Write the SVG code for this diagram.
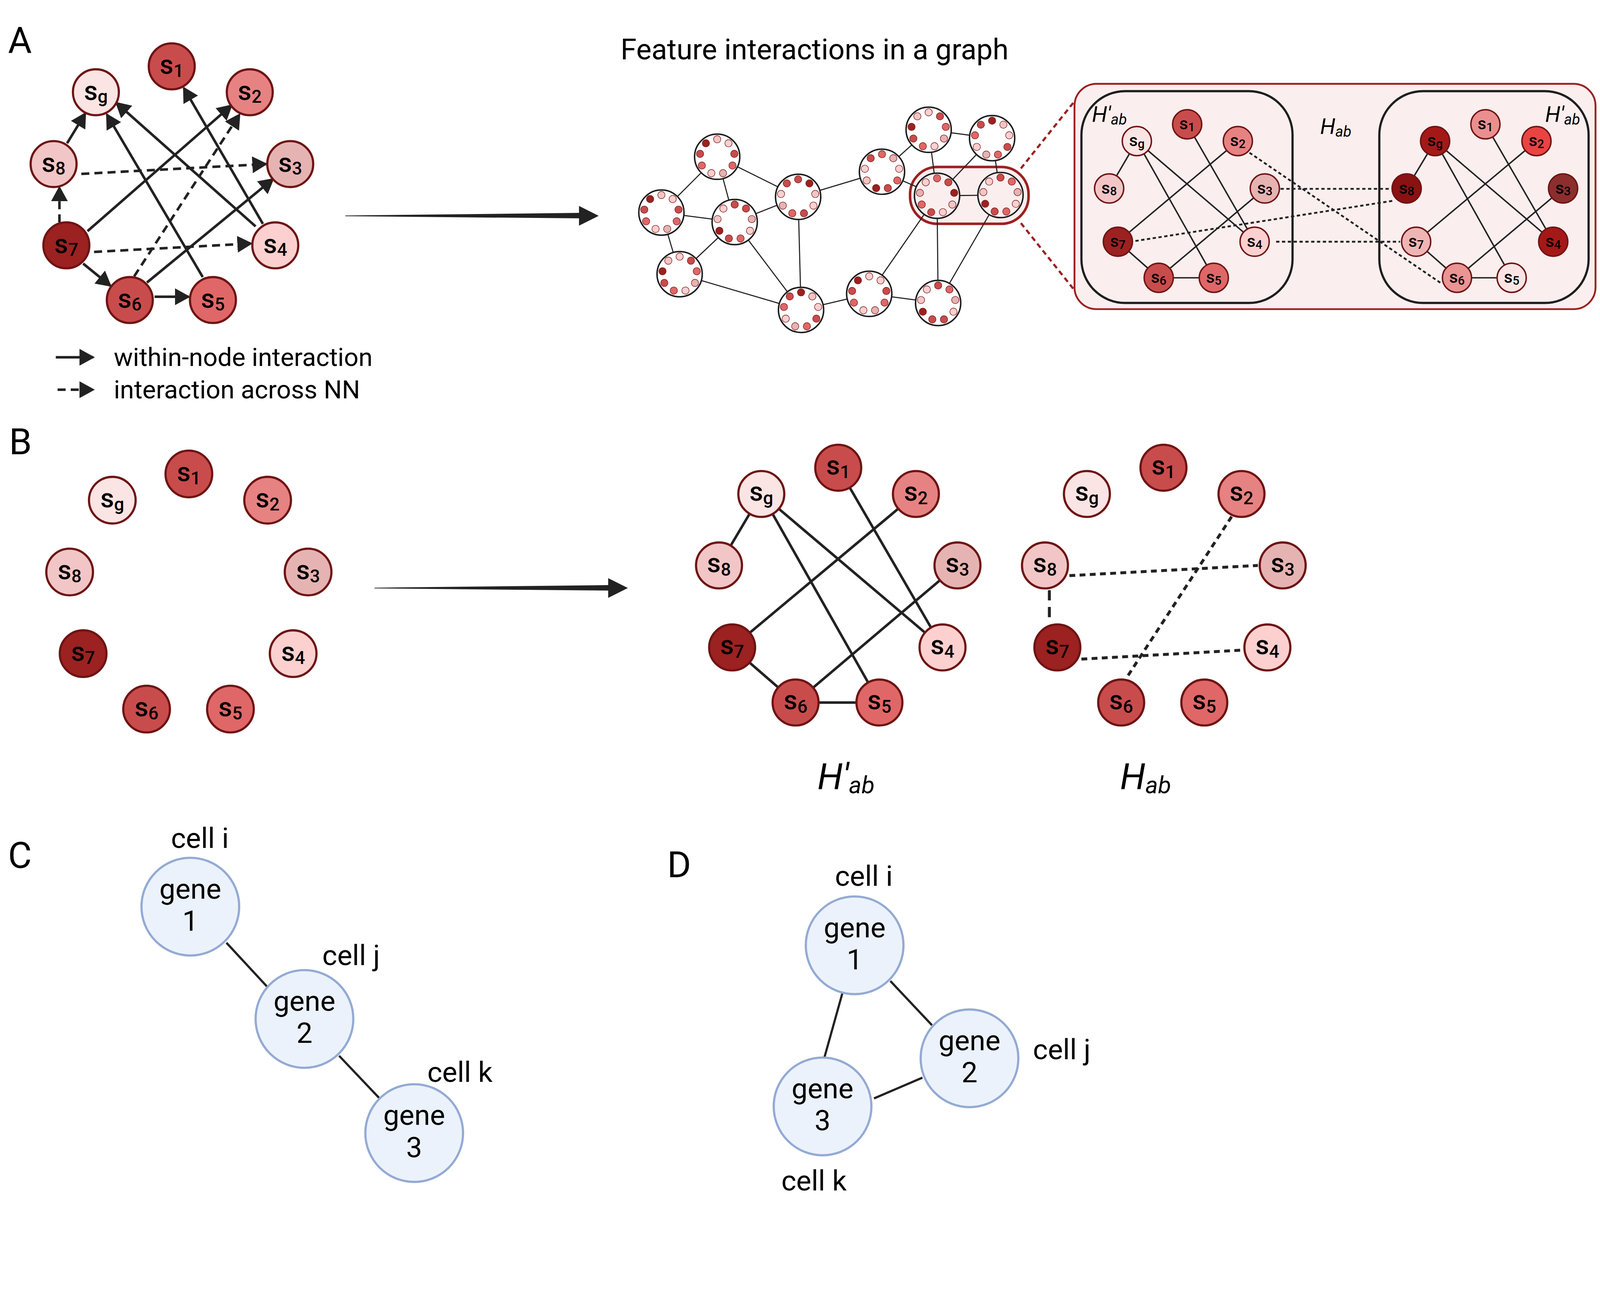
<svg xmlns="http://www.w3.org/2000/svg" width="4388" height="3331" viewBox="0 0 4388 3331">
<style>
.t{font-family:Roboto,'Liberation Sans',sans-serif;fill:#000}
.pl{font-size:100px}
.it{font-style:italic}
.nd{stroke:#6e1414;stroke-width:6}
.ndi{stroke:#6e1414;stroke-width:4}
.lb{font-family:Roboto,'Liberation Sans',sans-serif;font-weight:500;font-size:73px;text-anchor:middle;fill:#000}
.lb .ss{font-size:49px}
.lbs{font-family:Roboto,'Liberation Sans',sans-serif;font-weight:500;font-size:46px;text-anchor:middle;fill:#000}
.lbs .ss{font-size:33px}
.e{stroke:#222;stroke-width:7;fill:none}
.ed{stroke:#222;stroke-width:7;stroke-dasharray:22 14;fill:none}
.eb{stroke:#222;stroke-width:7;fill:none}
.ebd{stroke:#222;stroke-width:8;stroke-dasharray:16 12;fill:none}
.ei{stroke:#222;stroke-width:4;fill:none}
.eid{stroke:#222;stroke-width:5;stroke-dasharray:9 7;fill:none}
.g{stroke:#222;stroke-width:3}
.big{fill:#fff;stroke:#1a1a1a;stroke-width:4}
.dt{stroke:#7a1a1a;stroke-width:1.5}
.D{fill:#9c2121}.R{fill:#c94c4c}.M{fill:#e06767}.P{fill:#e78282}.L{fill:#e6b3b3}.K{fill:#f2c6c6}.W{fill:#fdd0d0}.G{fill:#fbe4e4}
.gn{fill:#ebf2fb;stroke:#94aad4;stroke-width:6}
.gt{font-family:Roboto,'Liberation Sans',sans-serif;font-size:78px;text-anchor:middle;fill:#000}
.cl{font-family:Roboto,'Liberation Sans',sans-serif;font-size:78px;fill:#000}
.ge{stroke:#222;stroke-width:6}
</style>
<defs>
<marker id="ah" markerUnits="userSpaceOnUse" markerWidth="42" markerHeight="46" refX="38" refY="23" orient="auto">
<path d="M0,0 L42,23 L0,46 z" fill="#222"/>
</marker>
</defs>
<g id="diagram" transform="scale(0.9334)">

<!-- Panel letters and titles -->
<text class="t pl" x="22" y="145">A</text>
<text class="t pl" x="25" y="1246">B</text>
<text class="t pl" x="22" y="2381">C</text>
<text class="t pl" x="1830" y="2406">D</text>
<text class="t" x="1702" y="163" font-size="79">Feature interactions in a graph</text>

<!-- Panel A connectors -->
<g id="connectorsA">
<path class="e" d="M184,393 L234,311" marker-end="url(#ah)"/>
<path class="e" d="M701,621 L319,282" marker-end="url(#ah)"/>
<path class="e" d="M556,760 L293,314" marker-end="url(#ah)"/>
<path class="e" d="M721,614 L504,241" marker-end="url(#ah)"/>
<path class="e" d="M240,634 L635,289" marker-end="url(#ah)"/>
<path class="e" d="M403,775 L749,491" marker-end="url(#ah)"/>
<path class="e" d="M228,723 L303,784" marker-end="url(#ah)"/>
<path class="e" d="M424,814 L518,814" marker-end="url(#ah)"/>
<path class="ed" d="M163,610 L163,514" marker-end="url(#ah)"/>
<path class="ed" d="M223,477 L730,450" marker-end="url(#ah)"/>
<path class="ed" d="M258,691 L689,668" marker-end="url(#ah)"/>
<path class="ed" d="M368,758 L657,314" marker-end="url(#ah)"/>
<path class="e" d="M153,980 L256,980" marker-end="url(#ah)"/>
<path class="ed" d="M158,1069 L256,1069" marker-end="url(#ah)"/>
</g>
<text class="t" x="312" y="1004" font-size="70">within-node interaction</text>
<text class="t" x="312" y="1093" font-size="70">interaction across NN</text>

<!-- Panel A nodes -->
<g id="A_s1"><circle class="nd R" cx="471" cy="182" r="63"/><text class="lb" x="471" y="203">s<tspan class="ss" dy="8">1</tspan></text></g>
<g id="A_sg"><circle class="nd G" cx="263" cy="253" r="63"/><text class="lb" x="263" y="274">s<tspan class="ss" dy="8">g</tspan></text></g>
<g id="A_s2"><circle class="nd P" cx="685" cy="253" r="63"/><text class="lb" x="685" y="274">s<tspan class="ss" dy="8">2</tspan></text></g>
<g id="A_s8"><circle class="nd K" cx="147" cy="450" r="63"/><text class="lb" x="147" y="471">s<tspan class="ss" dy="8">8</tspan></text></g>
<g id="A_s3"><circle class="nd L" cx="796" cy="450" r="63"/><text class="lb" x="796" y="471">s<tspan class="ss" dy="8">3</tspan></text></g>
<g id="A_s7"><circle class="nd D" cx="182" cy="673" r="63"/><text class="lb" x="182" y="694">s<tspan class="ss" dy="8">7</tspan></text></g>
<g id="A_s4"><circle class="nd W" cx="755" cy="673" r="63"/><text class="lb" x="755" y="694">s<tspan class="ss" dy="8">4</tspan></text></g>
<g id="A_s6"><circle class="nd R" cx="356" cy="823" r="63"/><text class="lb" x="356" y="844">s<tspan class="ss" dy="8">6</tspan></text></g>
<g id="A_s5"><circle class="nd M" cx="584" cy="823" r="63"/><text class="lb" x="584" y="844">s<tspan class="ss" dy="8">5</tspan></text></g>

<!-- Big arrows -->
<g id="arrowA">
<path d="M947,591 L1590,584 L1590,599 L947,593 z" fill="#222"/>
<path d="M1588,565 L1642,592 L1588,619 z" fill="#222"/>
</g>
<g id="arrowB">
<path d="M1027,1612 L1670,1605 L1670,1620 L1027,1614 z" fill="#222"/>
<path d="M1668,1586 L1722,1613 L1668,1640 z" fill="#222"/>
</g>

<!-- Middle graph -->
<g id="highlight">
<rect x="2496" y="458" width="325" height="156" rx="75" fill="#fbeeee" stroke="#9c2121" stroke-width="7"/>
<path d="M2800,462 L2946,279" stroke="#9c2121" stroke-width="6" stroke-dasharray="14 10" fill="none"/>
<path d="M2800,612 L2946,795" stroke="#9c2121" stroke-width="6" stroke-dasharray="14 10" fill="none"/>
</g>
<g id="graph_edges">
<line class="g" x1="1967" y1="430" x2="1814" y2="583"/>
<line class="g" x1="1967" y1="430" x2="2015" y2="609"/>
<line class="g" x1="1967" y1="430" x2="2189" y2="540"/>
<line class="g" x1="1814" y1="583" x2="2015" y2="609"/>
<line class="g" x1="1814" y1="583" x2="1864" y2="752"/>
<line class="g" x1="2015" y1="609" x2="2189" y2="540"/>
<line class="g" x1="2015" y1="609" x2="1864" y2="752"/>
<line class="g" x1="2015" y1="609" x2="2197" y2="850"/>
<line class="g" x1="2189" y1="540" x2="2197" y2="850"/>
<line class="g" x1="2189" y1="540" x2="2419" y2="471"/>
<line class="g" x1="2419" y1="471" x2="2547" y2="356"/>
<line class="g" x1="2419" y1="471" x2="2570" y2="537"/>
<line class="g" x1="2547" y1="356" x2="2721" y2="379"/>
<line class="g" x1="2547" y1="356" x2="2570" y2="537"/>
<line class="g" x1="2721" y1="379" x2="2570" y2="537"/>
<line class="g" x1="2721" y1="379" x2="2744" y2="535"/>
<line class="g" x1="2570" y1="537" x2="2744" y2="535"/>
<line class="g" x1="2570" y1="537" x2="2384" y2="806"/>
<line class="g" x1="2570" y1="537" x2="2573" y2="831"/>
<line class="g" x1="2744" y1="535" x2="2573" y2="831"/>
<line class="g" x1="1864" y1="752" x2="2197" y2="850"/>
<line class="g" x1="2197" y1="850" x2="2384" y2="806"/>
<line class="g" x1="2384" y1="806" x2="2573" y2="831"/>
</g>
<g id="gc1" transform="translate(1967,430)"><circle class="big" r="62"/><g class="dt"><circle class="K" cx="0" cy="-48" r="10"/><circle class="W" cx="31" cy="-37" r="10"/><circle class="R" cx="47" cy="-8" r="10"/><circle class="M" cx="42" cy="24" r="10"/><circle class="L" cx="16" cy="45" r="10"/><circle class="W" cx="-16" cy="45" r="10"/><circle class="M" cx="-42" cy="24" r="10"/><circle class="R" cx="-47" cy="-8" r="10"/><circle class="D" cx="-31" cy="-37" r="10"/></g></g>
<g id="gc2" transform="translate(1814,583)"><circle class="big" r="62"/><g class="dt"><circle class="K" cx="0" cy="-48" r="10"/><circle class="W" cx="31" cy="-37" r="10"/><circle class="R" cx="47" cy="-8" r="10"/><circle class="M" cx="42" cy="24" r="10"/><circle class="L" cx="16" cy="45" r="10"/><circle class="W" cx="-16" cy="45" r="10"/><circle class="M" cx="-42" cy="24" r="10"/><circle class="R" cx="-47" cy="-8" r="10"/><circle class="D" cx="-31" cy="-37" r="10"/></g></g>
<g id="gc3" transform="translate(2015,609)"><circle class="big" r="62"/><g class="dt"><circle class="R" cx="0" cy="-48" r="10"/><circle class="R" cx="31" cy="-37" r="10"/><circle class="L" cx="47" cy="-8" r="10"/><circle class="W" cx="42" cy="24" r="10"/><circle class="M" cx="16" cy="45" r="10"/><circle class="R" cx="-16" cy="45" r="10"/><circle class="D" cx="-42" cy="24" r="10"/><circle class="K" cx="-47" cy="-8" r="10"/><circle class="W" cx="-31" cy="-37" r="10"/></g></g>
<g id="gc4" transform="translate(2189,540)"><circle class="big" r="62"/><g class="dt"><circle class="R" cx="0" cy="-48" r="10"/><circle class="D" cx="31" cy="-37" r="10"/><circle class="K" cx="47" cy="-8" r="10"/><circle class="W" cx="42" cy="24" r="10"/><circle class="R" cx="16" cy="45" r="10"/><circle class="M" cx="-16" cy="45" r="10"/><circle class="L" cx="-42" cy="24" r="10"/><circle class="W" cx="-47" cy="-8" r="10"/><circle class="R" cx="-31" cy="-37" r="10"/></g></g>
<g id="gc5" transform="translate(2419,471)"><circle class="big" r="62"/><g class="dt"><circle class="M" cx="0" cy="-48" r="10"/><circle class="L" cx="31" cy="-37" r="10"/><circle class="W" cx="47" cy="-8" r="10"/><circle class="M" cx="42" cy="24" r="10"/><circle class="R" cx="16" cy="45" r="10"/><circle class="D" cx="-16" cy="45" r="10"/><circle class="K" cx="-42" cy="24" r="10"/><circle class="W" cx="-47" cy="-8" r="10"/><circle class="R" cx="-31" cy="-37" r="10"/></g></g>
<g id="gc6" transform="translate(2547,356)"><circle class="big" r="62"/><g class="dt"><circle class="W" cx="0" cy="-48" r="10"/><circle class="R" cx="31" cy="-37" r="10"/><circle class="M" cx="47" cy="-8" r="10"/><circle class="L" cx="42" cy="24" r="10"/><circle class="W" cx="16" cy="45" r="10"/><circle class="M" cx="-16" cy="45" r="10"/><circle class="R" cx="-42" cy="24" r="10"/><circle class="D" cx="-47" cy="-8" r="10"/><circle class="K" cx="-31" cy="-37" r="10"/></g></g>
<g id="gc7" transform="translate(2721,379)"><circle class="big" r="62"/><g class="dt"><circle class="D" cx="0" cy="-48" r="10"/><circle class="K" cx="31" cy="-37" r="10"/><circle class="W" cx="47" cy="-8" r="10"/><circle class="R" cx="42" cy="24" r="10"/><circle class="M" cx="16" cy="45" r="10"/><circle class="L" cx="-16" cy="45" r="10"/><circle class="W" cx="-42" cy="24" r="10"/><circle class="M" cx="-47" cy="-8" r="10"/><circle class="R" cx="-31" cy="-37" r="10"/></g></g>
<g id="gc8" transform="translate(2570,537)"><circle class="big" r="62" style="fill:#fbeeee"/><g class="dt"><circle class="M" cx="0" cy="-48" r="10"/><circle class="R" cx="31" cy="-37" r="10"/><circle class="D" cx="47" cy="-8" r="10"/><circle class="K" cx="42" cy="24" r="10"/><circle class="W" cx="16" cy="45" r="10"/><circle class="R" cx="-16" cy="45" r="10"/><circle class="M" cx="-42" cy="24" r="10"/><circle class="L" cx="-47" cy="-8" r="10"/><circle class="W" cx="-31" cy="-37" r="10"/></g></g>
<g id="gc9" transform="translate(2744,535)"><circle class="big" r="62" style="fill:#fbeeee"/><g class="dt"><circle class="R" cx="0" cy="-48" r="10"/><circle class="M" cx="31" cy="-37" r="10"/><circle class="L" cx="47" cy="-8" r="10"/><circle class="W" cx="42" cy="24" r="10"/><circle class="M" cx="16" cy="45" r="10"/><circle class="R" cx="-16" cy="45" r="10"/><circle class="D" cx="-42" cy="24" r="10"/><circle class="K" cx="-47" cy="-8" r="10"/><circle class="W" cx="-31" cy="-37" r="10"/></g></g>
<g id="gc10" transform="translate(1864,752)"><circle class="big" r="62"/><g class="dt"><circle class="W" cx="0" cy="-48" r="10"/><circle class="R" cx="31" cy="-37" r="10"/><circle class="M" cx="47" cy="-8" r="10"/><circle class="L" cx="42" cy="24" r="10"/><circle class="W" cx="16" cy="45" r="10"/><circle class="M" cx="-16" cy="45" r="10"/><circle class="R" cx="-42" cy="24" r="10"/><circle class="D" cx="-47" cy="-8" r="10"/><circle class="K" cx="-31" cy="-37" r="10"/></g></g>
<g id="gc11" transform="translate(2197,850)"><circle class="big" r="62"/><g class="dt"><circle class="D" cx="0" cy="-48" r="10"/><circle class="K" cx="31" cy="-37" r="10"/><circle class="W" cx="47" cy="-8" r="10"/><circle class="R" cx="42" cy="24" r="10"/><circle class="M" cx="16" cy="45" r="10"/><circle class="L" cx="-16" cy="45" r="10"/><circle class="W" cx="-42" cy="24" r="10"/><circle class="M" cx="-47" cy="-8" r="10"/><circle class="R" cx="-31" cy="-37" r="10"/></g></g>
<g id="gc12" transform="translate(2384,806)"><circle class="big" r="62"/><g class="dt"><circle class="W" cx="0" cy="-48" r="10"/><circle class="W" cx="31" cy="-37" r="10"/><circle class="R" cx="47" cy="-8" r="10"/><circle class="M" cx="42" cy="24" r="10"/><circle class="L" cx="16" cy="45" r="10"/><circle class="W" cx="-16" cy="45" r="10"/><circle class="M" cx="-42" cy="24" r="10"/><circle class="R" cx="-47" cy="-8" r="10"/><circle class="D" cx="-31" cy="-37" r="10"/></g></g>
<g id="gc13" transform="translate(2573,831)"><circle class="big" r="62"/><g class="dt"><circle class="R" cx="0" cy="-48" r="10"/><circle class="M" cx="31" cy="-37" r="10"/><circle class="L" cx="47" cy="-8" r="10"/><circle class="W" cx="42" cy="24" r="10"/><circle class="R" cx="16" cy="45" r="10"/><circle class="R" cx="-16" cy="45" r="10"/><circle class="D" cx="-42" cy="24" r="10"/><circle class="K" cx="-47" cy="-8" r="10"/><circle class="W" cx="-31" cy="-37" r="10"/></g></g>

<!-- Inset -->
<g id="inset">
<rect x="2947" y="230" width="1429" height="618" rx="60" fill="#fbeeee" stroke="#9c2121" stroke-width="5"/>
<rect x="2966" y="250" width="579" height="581" rx="120" fill="none" stroke="#1e1e1e" stroke-width="6"/>
<rect x="3783" y="250" width="574" height="581" rx="120" fill="none" stroke="#1e1e1e" stroke-width="6"/>
<text class="t it" x="2995" y="334" font-size="60">H′<tspan font-size="41" dy="8">ab</tspan></text>
<text class="t it" x="3621" y="367" font-size="60">H<tspan font-size="41" dy="8">ab</tspan></text>
<text class="t it" x="4238" y="334" font-size="60">H′<tspan font-size="41" dy="8">ab</tspan></text>
</g>
<g id="inset_edges">
<line class="ei" x1="3118" y1="387" x2="3042" y2="517"/>
<line class="ei" x1="3118" y1="387" x2="3329" y2="762"/>
<line class="ei" x1="3118" y1="387" x2="3441" y2="663"/>
<line class="ei" x1="3256" y1="341" x2="3441" y2="663"/>
<line class="ei" x1="3395" y1="387" x2="3066" y2="663"/>
<line class="ei" x1="3469" y1="517" x2="3178" y2="762"/>
<line class="ei" x1="3066" y1="663" x2="3178" y2="762"/>
<line class="ei" x1="3178" y1="762" x2="3329" y2="762" stroke-width="6"/>
<line class="ei" x1="3936" y1="387" x2="3858" y2="517"/>
<line class="ei" x1="3936" y1="387" x2="4146" y2="762"/>
<line class="ei" x1="3936" y1="387" x2="4260" y2="663"/>
<line class="ei" x1="4074" y1="341" x2="4260" y2="663"/>
<line class="ei" x1="4214" y1="387" x2="3884" y2="663"/>
<line class="ei" x1="4287" y1="517" x2="3996" y2="762"/>
<line class="ei" x1="3884" y1="663" x2="3996" y2="762"/>
<line class="ei" x1="3996" y1="762" x2="4146" y2="762" stroke-width="6"/>
<path class="eid" d="M3512,518 L3816,518"/>
<path class="eid" d="M3114,661 L3825,550"/>
<path class="eid" d="M3500,663 L3840,663"/>
<path class="eid" d="M3427,419 L3951,776"/>
</g>
<g id="I_s1"><circle class="ndi R" cx="3256" cy="341" r="40"/><text class="lbs" x="3256" y="355">s<tspan class="ss" dy="5">1</tspan></text></g>
<g id="I_sg"><circle class="ndi G" cx="3118" cy="387" r="40"/><text class="lbs" x="3118" y="401">s<tspan class="ss" dy="5">g</tspan></text></g>
<g id="I_s2"><circle class="ndi P" cx="3395" cy="387" r="40"/><text class="lbs" x="3395" y="401">s<tspan class="ss" dy="5">2</tspan></text></g>
<g id="I_s8"><circle class="ndi K" cx="3042" cy="517" r="40"/><text class="lbs" x="3042" y="531">s<tspan class="ss" dy="5">8</tspan></text></g>
<g id="I_s3"><circle class="ndi L" cx="3469" cy="517" r="40"/><text class="lbs" x="3469" y="531">s<tspan class="ss" dy="5">3</tspan></text></g>
<g id="I_s7"><circle class="ndi D" cx="3066" cy="663" r="40"/><text class="lbs" x="3066" y="677">s<tspan class="ss" dy="5">7</tspan></text></g>
<g id="I_s4"><circle class="ndi W" cx="3441" cy="663" r="40"/><text class="lbs" x="3441" y="677">s<tspan class="ss" dy="5">4</tspan></text></g>
<g id="I_s6"><circle class="ndi R" cx="3178" cy="762" r="40"/><text class="lbs" x="3178" y="776">s<tspan class="ss" dy="5">6</tspan></text></g>
<g id="I_s5"><circle class="ndi M" cx="3329" cy="762" r="40"/><text class="lbs" x="3329" y="776">s<tspan class="ss" dy="5">5</tspan></text></g>
<g id="J_s1"><circle class="ndi" fill="#ea8f8f" cx="4074" cy="341" r="40"/><text class="lbs" x="4074" y="355">s<tspan class="ss" dy="5">1</tspan></text></g>
<g id="J_sg"><circle class="ndi" fill="#a51818" cx="3936" cy="387" r="40"/><text class="lbs" x="3936" y="401">s<tspan class="ss" dy="5">g</tspan></text></g>
<g id="J_s2"><circle class="ndi" fill="#e84444" cx="4214" cy="387" r="40"/><text class="lbs" x="4214" y="401">s<tspan class="ss" dy="5">2</tspan></text></g>
<g id="J_s8"><circle class="ndi" fill="#8a1212" cx="3858" cy="517" r="40"/><text class="lbs" x="3858" y="531">s<tspan class="ss" dy="5">8</tspan></text></g>
<g id="J_s3"><circle class="ndi" fill="#8c2e2e" cx="4287" cy="517" r="40"/><text class="lbs" x="4287" y="531">s<tspan class="ss" dy="5">3</tspan></text></g>
<g id="J_s7"><circle class="ndi" fill="#efb5b5" cx="3884" cy="663" r="40"/><text class="lbs" x="3884" y="677">s<tspan class="ss" dy="5">7</tspan></text></g>
<g id="J_s4"><circle class="ndi" fill="#a51818" cx="4260" cy="663" r="40"/><text class="lbs" x="4260" y="677">s<tspan class="ss" dy="5">4</tspan></text></g>
<g id="J_s6"><circle class="ndi" fill="#ea9494" cx="3996" cy="762" r="40"/><text class="lbs" x="3996" y="776">s<tspan class="ss" dy="5">6</tspan></text></g>
<g id="J_s5"><circle class="ndi" fill="#fbe4e4" cx="4146" cy="762" r="40"/><text class="lbs" x="4146" y="776">s<tspan class="ss" dy="5">5</tspan></text></g>

<!-- Panel B left -->
<g id="B_s1"><circle class="nd R" cx="518" cy="1300" r="64"/><text class="lb" x="518" y="1320">s<tspan class="ss" dy="8">1</tspan></text></g>
<g id="B_sg"><circle class="nd G" cx="308" cy="1372" r="64"/><text class="lb" x="308" y="1392">s<tspan class="ss" dy="8">g</tspan></text></g>
<g id="B_s2"><circle class="nd P" cx="734" cy="1372" r="64"/><text class="lb" x="734" y="1392">s<tspan class="ss" dy="8">2</tspan></text></g>
<g id="B_s8"><circle class="nd K" cx="191" cy="1569" r="64"/><text class="lb" x="191" y="1589">s<tspan class="ss" dy="8">8</tspan></text></g>
<g id="B_s3"><circle class="nd L" cx="845" cy="1569" r="64"/><text class="lb" x="845" y="1589">s<tspan class="ss" dy="8">3</tspan></text></g>
<g id="B_s7"><circle class="nd D" cx="228" cy="1793" r="64"/><text class="lb" x="228" y="1813">s<tspan class="ss" dy="8">7</tspan></text></g>
<g id="B_s4"><circle class="nd W" cx="804" cy="1793" r="64"/><text class="lb" x="804" y="1813">s<tspan class="ss" dy="8">4</tspan></text></g>
<g id="B_s6"><circle class="nd R" cx="402" cy="1945" r="64"/><text class="lb" x="402" y="1965">s<tspan class="ss" dy="8">6</tspan></text></g>
<g id="B_s5"><circle class="nd M" cx="632" cy="1945" r="64"/><text class="lb" x="632" y="1965">s<tspan class="ss" dy="8">5</tspan></text></g>

<!-- Panel B right connectors -->
<g id="connectorsB">
<line class="eb" x1="2088" y1="1355" x2="1972" y2="1551"/>
<line class="eb" x1="2088" y1="1355" x2="2412" y2="1927"/>
<line class="eb" x1="2088" y1="1355" x2="2585" y2="1776"/>
<line class="eb" x1="2299" y1="1283" x2="2585" y2="1776"/>
<line class="eb" x1="2512" y1="1355" x2="2008" y2="1776"/>
<line class="eb" x1="2626" y1="1551" x2="2182" y2="1927"/>
<line class="eb" x1="2008" y1="1776" x2="2182" y2="1927"/>
<line class="eb" x1="2182" y1="1927" x2="2412" y2="1927" stroke-width="10"/>
<path class="ebd" d="M2933,1579 L3450,1551"/>
<path class="ebd" d="M2878,1619 L2878,1711" style="stroke-dasharray:28 18"/>
<path class="ebd" d="M2966,1808 L3412,1783"/>
<path class="ebd" d="M3378,1417 L3088,1862"/>
</g>
<g id="H1_s1"><circle class="nd R" cx="2299" cy="1283" r="63"/><text class="lb" x="2299" y="1302">s<tspan class="ss" dy="9">1</tspan></text></g>
<g id="H1_sg"><circle class="nd G" cx="2088" cy="1355" r="63"/><text class="lb" x="2088" y="1374">s<tspan class="ss" dy="9">g</tspan></text></g>
<g id="H1_s2"><circle class="nd P" cx="2512" cy="1355" r="63"/><text class="lb" x="2512" y="1374">s<tspan class="ss" dy="9">2</tspan></text></g>
<g id="H1_s8"><circle class="nd K" cx="1972" cy="1551" r="63"/><text class="lb" x="1972" y="1570">s<tspan class="ss" dy="9">8</tspan></text></g>
<g id="H1_s3"><circle class="nd L" cx="2626" cy="1551" r="63"/><text class="lb" x="2626" y="1570">s<tspan class="ss" dy="9">3</tspan></text></g>
<g id="H1_s7"><circle class="nd D" cx="2008" cy="1776" r="63"/><text class="lb" x="2008" y="1795">s<tspan class="ss" dy="9">7</tspan></text></g>
<g id="H1_s4"><circle class="nd W" cx="2585" cy="1776" r="63"/><text class="lb" x="2585" y="1795">s<tspan class="ss" dy="9">4</tspan></text></g>
<g id="H1_s6"><circle class="nd R" cx="2182" cy="1927" r="63"/><text class="lb" x="2182" y="1946">s<tspan class="ss" dy="9">6</tspan></text></g>
<g id="H1_s5"><circle class="nd M" cx="2412" cy="1927" r="63"/><text class="lb" x="2412" y="1946">s<tspan class="ss" dy="9">5</tspan></text></g>
<g id="H2_s1"><circle class="nd R" cx="3191" cy="1283" r="63"/><text class="lb" x="3191" y="1302">s<tspan class="ss" dy="9">1</tspan></text></g>
<g id="H2_sg"><circle class="nd G" cx="2981" cy="1355" r="63"/><text class="lb" x="2981" y="1374">s<tspan class="ss" dy="9">g</tspan></text></g>
<g id="H2_s2"><circle class="nd P" cx="3405" cy="1355" r="63"/><text class="lb" x="3405" y="1374">s<tspan class="ss" dy="9">2</tspan></text></g>
<g id="H2_s8"><circle class="nd K" cx="2866" cy="1551" r="63"/><text class="lb" x="2866" y="1570">s<tspan class="ss" dy="9">8</tspan></text></g>
<g id="H2_s3"><circle class="nd L" cx="3518" cy="1551" r="63"/><text class="lb" x="3518" y="1570">s<tspan class="ss" dy="9">3</tspan></text></g>
<g id="H2_s7"><circle class="nd D" cx="2900" cy="1776" r="63"/><text class="lb" x="2900" y="1795">s<tspan class="ss" dy="9">7</tspan></text></g>
<g id="H2_s4"><circle class="nd W" cx="3476" cy="1776" r="63"/><text class="lb" x="3476" y="1795">s<tspan class="ss" dy="9">4</tspan></text></g>
<g id="H2_s6"><circle class="nd R" cx="3075" cy="1927" r="63"/><text class="lb" x="3075" y="1946">s<tspan class="ss" dy="9">6</tspan></text></g>
<g id="H2_s5"><circle class="nd M" cx="3303" cy="1927" r="63"/><text class="lb" x="3303" y="1946">s<tspan class="ss" dy="9">5</tspan></text></g>
<text class="t it" x="2242" y="2164" font-size="100">H′<tspan font-size="66" dy="12">ab</tspan></text>
<text class="t it" x="3072" y="2164" font-size="100">H<tspan font-size="66" dy="12">ab</tspan></text>

<!-- Panel C -->
<g id="connectorsC">
<line class="ge" x1="621" y1="2586" x2="734" y2="2708"/>
<line class="ge" x1="930" y1="2896" x2="1043" y2="3015"/>
</g>
<g id="C_g1"><circle class="gn" cx="522" cy="2487" r="134"/><text class="gt" x="522" y="2465">gene</text><text class="gt" x="522" y="2553">1</text></g>
<g id="C_g2"><circle class="gn" cx="835" cy="2795" r="134"/><text class="gt" x="835" y="2773">gene</text><text class="gt" x="835" y="2861">2</text></g>
<g id="C_g3"><circle class="gn" cx="1136" cy="3108" r="134"/><text class="gt" x="1136" y="3086">gene</text><text class="gt" x="1136" y="3174">3</text></g>
<text class="cl" x="469" y="2326">cell i</text>
<text class="cl" x="884" y="2647">cell j</text>
<text class="cl" x="1172" y="2968">cell k</text>

<!-- Panel D -->
<g id="connectorsD">
<line class="ge" x1="2313" y1="2715" x2="2261" y2="2901"/>
<line class="ge" x1="2442" y1="2691" x2="2556" y2="2812"/>
<line class="ge" x1="2397" y1="3013" x2="2530" y2="2956"/>
</g>
<g id="D_g1"><circle class="gn" cx="2344" cy="2593" r="134"/><text class="gt" x="2344" y="2571">gene</text><text class="gt" x="2344" y="2659">1</text></g>
<g id="D_g2"><circle class="gn" cx="2659" cy="2903" r="134"/><text class="gt" x="2659" y="2881">gene</text><text class="gt" x="2659" y="2969">2</text></g>
<g id="D_g3"><circle class="gn" cx="2256" cy="3035" r="134"/><text class="gt" x="2256" y="3013">gene</text><text class="gt" x="2256" y="3101">3</text></g>
<text class="cl" x="2290" y="2430">cell i</text>
<text class="cl" x="2833" y="2906">cell j</text>
<text class="cl" x="2143" y="3266">cell k</text>
</g>
</svg>
